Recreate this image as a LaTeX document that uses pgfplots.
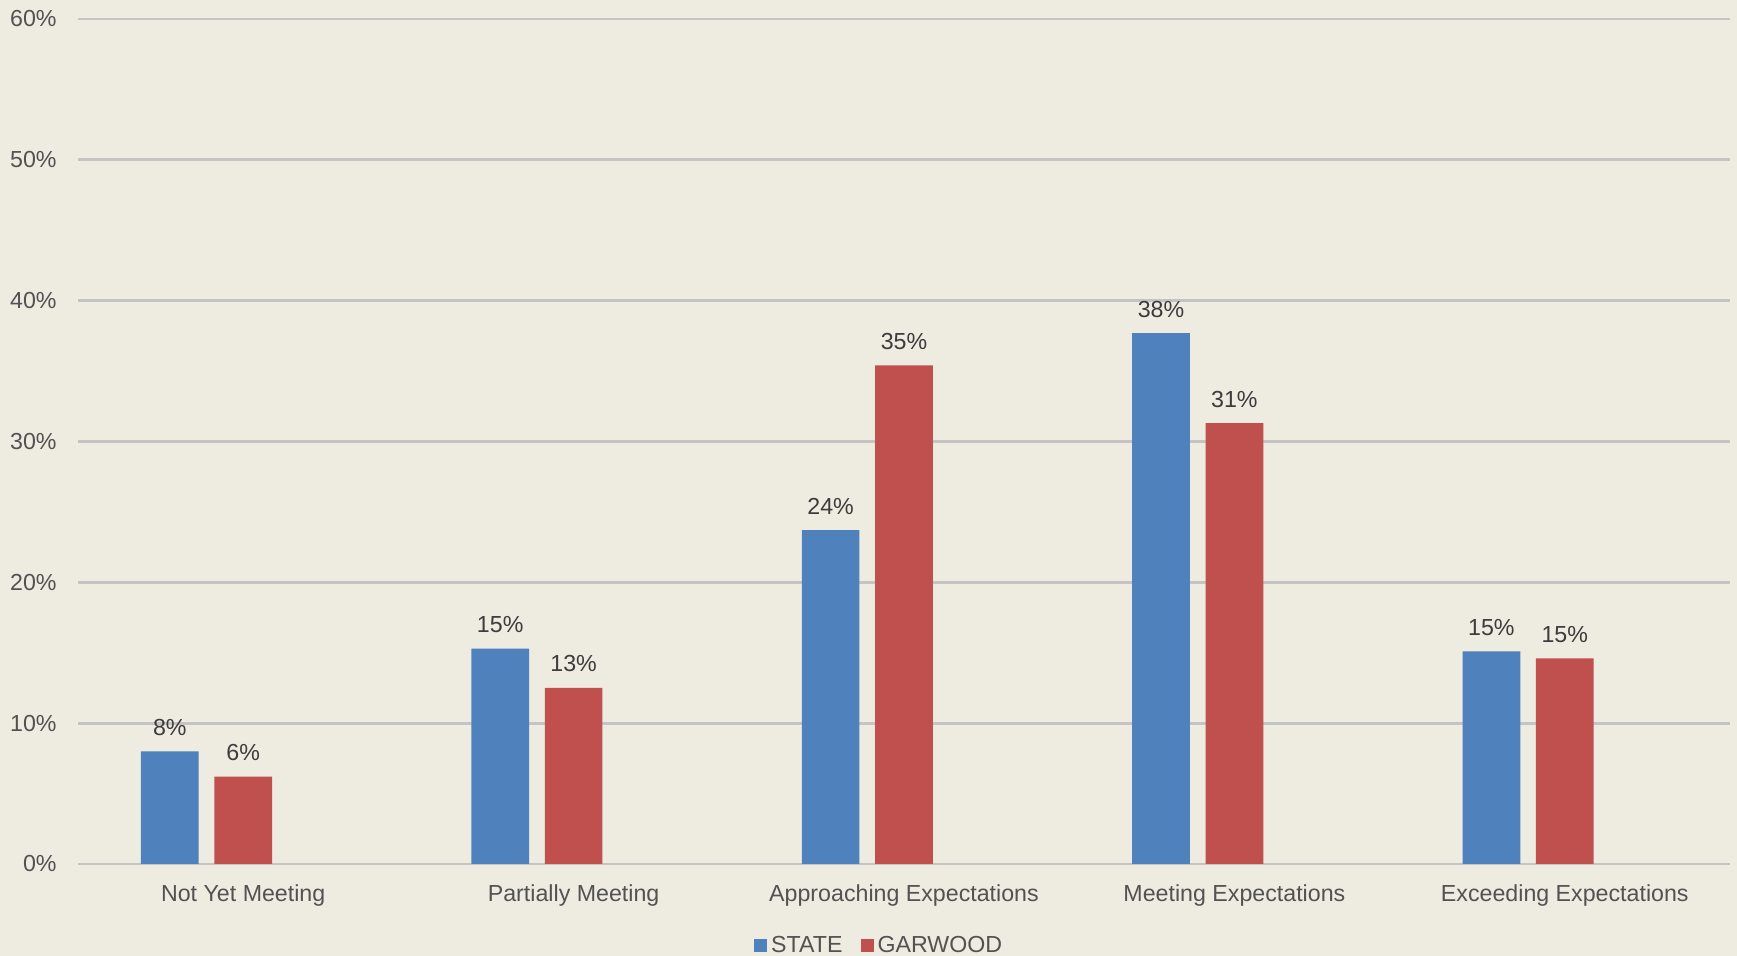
\documentclass[border=0pt]{standalone}
\usepackage{pgfplots}
\pgfplotsset{compat=1.18}
\usepackage{fontspec}
\setmainfont{Liberation Sans}
\definecolor{bg}{RGB}{238,235,224}
\definecolor{gridc}{RGB}{196,196,196}
\definecolor{tickc}{RGB}{82,82,82}
\definecolor{labc}{RGB}{60,60,60}
\definecolor{stateblue}{RGB}{79,129,189}
\definecolor{garred}{RGB}{192,80,77}
\pgfplotstableread{
x state garwood
0 8.0 6.2
1 15.3 12.5
2 23.7 35.4
3 37.7 31.3
4 15.1 14.6
}\datatable
\begin{document}
\begin{tikzpicture}
\useasboundingbox (0pt,0pt) rectangle (868.5pt,478pt);
\fill[bg] (0pt,0pt) rectangle (868.5pt,478pt);
\begin{axis}[
  at={(39pt,46pt)}, anchor=south west,
  scale only axis, width=826pt, height=422.5pt,
  ymin=0, ymax=60, ytick={0,10,...,60},
  yticklabel={\pgfmathprintnumber{\tick}\%},
  xmin=-0.5, xmax=4.5, xtick={0,1,2,3,4},
  xticklabels={Not Yet Meeting, Partially Meeting, Approaching Expectations, Meeting Expectations, Exceeding Expectations},
  ymajorgrids, grid style={color=gridc, line width=1.4pt},
  axis line style={draw=none},
  major tick length=0pt,
  tick label style={font=\fontsize{11.6}{13}\selectfont, color=tickc},
  /pgf/number format/assume math mode=true,
  yticklabel style={anchor=east, inner sep=0pt, xshift=-10.5pt},
  xticklabel style={anchor=base, inner sep=0pt, yshift=-18.65pt},
  ybar,
  nodes near coords={\pgfmathprintnumber[fixed,precision=0]{\pgfplotspointmeta}\%},
  every node near coord/.append style={font=\fontsize{11.6}{13}\selectfont, color=labc, inner sep=0pt, anchor=south, yshift=7.7pt},
  legend style={draw=none, fill=none, legend columns=2, at={(0.4856,-0.097)}, anchor=center,
    font=\fontsize{11.6}{13}\selectfont, text=tickc,
    /tikz/every even column/.append style={column sep=7pt},
    nodes={inner xsep=2pt, inner ysep=0pt}},
  legend image code/.code={\fill[#1] (0pt,-3.25pt) rectangle (6.5pt,3.25pt);},
]
\addplot[fill=stateblue, draw=none, bar width=28.85pt, bar shift=-36.7pt] table[x=x, y=state] {\datatable};
\addplot[fill=garred, draw=none, bar width=28.85pt, bar shift=0pt] table[x=x, y=garwood] {\datatable};
\legend{STATE, GARWOOD}
\end{axis}
\end{tikzpicture}
\end{document}
